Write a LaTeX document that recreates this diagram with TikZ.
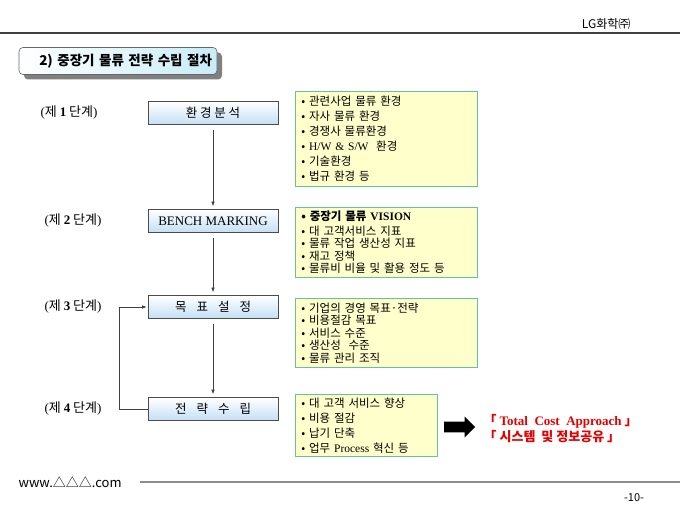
\documentclass[tikz,border=0pt]{standalone}
\usepackage{fontspec}
\setmainfont{Liberation Serif}
\newfontfamily\kr{Noto Sans CJK KR}
\usetikzlibrary{arrows.meta,positioning,shadows,shapes.arrows}
\definecolor{stepblue}{RGB}{196,223,245}
\definecolor{notefill}{RGB}{255,255,204}
\definecolor{noteline}{RGB}{102,194,153}
\definecolor{titlecyan}{RGB}{200,236,248}
\definecolor{redtext}{RGB}{228,0,0}
\begin{document}
\begin{tikzpicture}[x=1pt,y=-1pt,line width=0.6pt,
  every node/.style={font=\kr},
  title/.style={draw=black!60,rounded corners=4pt,left color=white,right color=titlecyan,
    minimum width=198pt,minimum height=27pt,text width=188pt,align=right,
    font=\kr\bfseries\fontsize{13.5}{15}\selectfont,
    drop shadow={shadow xshift=5pt,shadow yshift=-5pt,fill=black!50,opacity=1}},
  stage/.style={draw=black!70,top color=white,bottom color=stepblue,minimum width=130pt,
    minimum height=23pt,inner sep=0pt,font=\kr\fontsize{12.5}{14}\selectfont},
  note/.style={draw=noteline,fill=notefill,anchor=north west,align=left,inner xsep=6pt,
    line width=0.8pt,font=\kr\fontsize{11.5}{15}\selectfont},
  flow/.style={draw=black!75,-{Latex[length=4.5pt,width=3.5pt]},shorten <=5pt,shorten >=3pt},
  redline/.style={anchor=west,text=redtext,font=\kr\bfseries\fontsize{13}{15}\selectfont}]

\useasboundingbox (0,0) rectangle (680,510);

  % header
  \draw[black!75,line width=1.2pt] (0,33) -- (680,33);
  \node[anchor=east,font=\kr\fontsize{12}{14}\selectfont] (corp) at (634,24) {LG화학㈜};

  \node[title] (ttl) at (118,61) {2) 중장기 물류 전략 수립 절차};

  % stages
  \node[stage] (s1) at (213,113) {환 경 분 석};
  \node[stage] (s2) [below of=s1, node distance=108pt] {\rmfamily\fontsize{13}{15}\selectfont BENCH MARKING};
  \node[stage] (s3) [below of=s2, node distance=86pt] {목\hspace{10pt}표\hspace{10pt}설\hspace{10pt}정};
  \node[stage] (s4) [below of=s3, node distance=102pt] {전\hspace{10pt}략\hspace{10pt}수\hspace{10pt}립};

  \foreach \n/\x in {1/69,2/73,3/73,4/73}
  {\path (s\n) ++(0,0) coordinate (c\n);
   \node[font=\kr\fontsize{13}{15}\selectfont] (lab\n) at (\x,0 |- c\n)
     {{\rmfamily(}제 {\rmfamily\bfseries\n} 단계{\rmfamily)}};}

  \foreach \a/\b in {s1/s2,s2/s3,s3/s4}
  {\draw[flow] (\a) -- (\b);}

  \draw[flow,shorten <=0pt,shorten >=1pt] (s4.west) -- ++(-28,0) |- (s3.west);

  % notes
  \node[note,minimum width=182pt,minimum height=95pt,text width=170pt] (n1) at (295,91)
    {• 관련사업 물류 환경\\ • 자사 물류 환경\\ • 경쟁사 물류환경\\
     • {\rmfamily H/W \& S/W}\ \ 환경\\ • 기술환경\\ • 법규 환경 등};
  \node[note,minimum width=182pt,minimum height=68pt,text width=170pt,
    font=\kr\fontsize{11.5}{12.5}\selectfont] (n2) at (295,207)
    {{\bfseries • 중장기 물류 {\rmfamily VISION}}\\[2.5pt] • 대 고객서비스 지표\\
     • 물류 작업 생산성 지표\\ • 재고 정책\\ • 물류비 비율 및 활용 정도 등};
  \node[note,minimum width=182pt,minimum height=69pt,text width=170pt,
    font=\kr\fontsize{11.5}{12.5}\selectfont] (n3) at (295,298)
    {• 기업의 경영 목표·전략\\ • 비용절감 목표\\ • 서비스 수준\\
     • 생산성\ \ 수준\\ • 물류 관리 조직};
  \node[note,minimum width=142pt,minimum height=62pt,text width=130pt] (n4) at (295,394)
    {• 대 고객 서비스 향상\\ • 비용 절감\\ • 납기 단축\\ • 업무 {\rmfamily Process} 혁신 등};

  % result
  \node[single arrow,fill=black,draw=none,minimum height=31pt,minimum width=21pt,
    single arrow head extend=5pt,inner sep=5pt] (big) at (457,427) {};
  \node[redline] (tca) at (480,421) {「 {\rmfamily Total\ \ Cost\ \ Approach} 」};
  \node[redline] (share) at (480,437) {「\ 시스템\ \ 및 정보공유\ 」};

  % footer
  \node[anchor=west,font=\kr\fontsize{13}{15}\selectfont] (web) at (15,482) {www.△△△.com};
  \draw[black!45,line width=1.4pt] (140,482) -- (680,482);
  \node[font=\kr\fontsize{11}{13}\selectfont] (page) at (634,498) {-10-};

\end{tikzpicture}
\end{document}
